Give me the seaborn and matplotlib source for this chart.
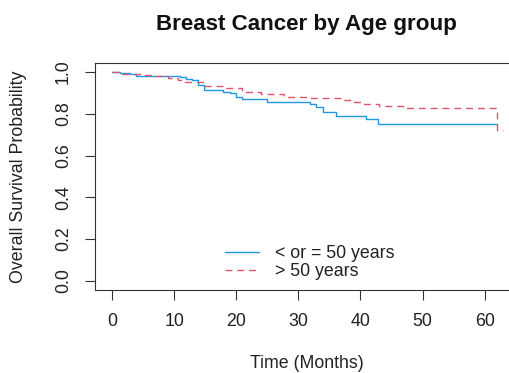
import numpy as np
import pandas as pd
import matplotlib
matplotlib.use("Agg")
import matplotlib.pyplot as plt
import seaborn as sns

# Kaplan-Meier step estimates per age group (time in months)
young_label = "< or = 50 years"
old_label = "> 50 years"

young_time = [0, 1.3, 2.9, 3.8, 10.9, 11.9, 12.9, 13.8, 14.8, 17.9, 18.9, 19.9,
              20.9, 24.9, 31.8, 32.9, 34.0, 36.0, 40.9, 42.9, 62.0]
young_surv = [1.0, 0.994, 0.989, 0.982, 0.976, 0.968, 0.962, 0.936, 0.915, 0.906,
              0.899, 0.879, 0.869, 0.858, 0.845, 0.832, 0.807, 0.791, 0.775, 0.749, 0.749]

old_time = [0, 1.6, 5.0, 6.9, 9.0, 10.6, 11.7, 14.7, 17.9, 20.9, 23.9, 27.7,
            31.2, 37.0, 38.8, 39.9, 43.0, 46.9, 62.0, 62.9]
old_surv = [1.0, 0.992, 0.987, 0.979, 0.973, 0.960, 0.952, 0.933, 0.922, 0.903,
            0.893, 0.882, 0.874, 0.864, 0.858, 0.848, 0.839, 0.828, 0.722, 0.722]

x_ticks = [0, 10, 20, 30, 40, 50, 60]
y_ticks = [0.0, 0.2, 0.4, 0.6, 0.8, 1.0]

df = pd.concat([
    pd.DataFrame({"time": young_time, "surv": young_surv, "group": young_label}),
    pd.DataFrame({"time": old_time, "surv": old_surv, "group": old_label}),
], ignore_index=True)

sns.set_style("ticks")
plt.rcParams["font.family"] = ["Liberation Sans", "DejaVu Sans"]

W, H = 510, 373
fig = plt.figure(figsize=(W / 100, H / 100), dpi=100)
left, right, top, bottom = 95.5, 517.5, 63.3, 290.3
ax = fig.add_axes([left / W, 1 - bottom / H, (right - left) / W, (bottom - top) / H])

sns.lineplot(data=df, x="time", y="surv", hue="group", style="group",
             hue_order=[young_label, old_label], style_order=[young_label, old_label],
             palette={young_label: "#2297E6", old_label: "#DF536B"},
             dashes={young_label: "", old_label: (5, 3.5)},
             drawstyle="steps-post", linewidth=1.0, estimator=None,
             sort=False, ax=ax)

ax.set_xlim(-2.7, 65.3)
ax.set_ylim(-0.046, 1.042)
ax.set_xticks(x_ticks)
ax.set_xticklabels([str(t) for t in x_ticks])
ax.set_yticks(y_ticks)
ax.set_yticklabels([f"{t:.1f}" for t in y_ticks], rotation=90, va="center")

fs = 12.75
for s in ax.spines.values():
    s.set_color("#333333")
    s.set_linewidth(0.8)
ax.spines["right"].set_visible(False)
ax.tick_params(axis="both", length=7, width=0.8, color="#333333",
               labelsize=fs, labelcolor="#222222")
ax.tick_params(axis="x", pad=9.5)
ax.tick_params(axis="y", pad=10)

ax.set_xlabel("Time (Months)", fontsize=fs, color="#222222", va="center")
ax.xaxis.set_label_coords(0.5, -(363 - bottom) / (bottom - top))
ax.set_ylabel("Overall Survival Probability", fontsize=fs, color="#222222", va="center")
ax.yaxis.set_label_coords(-(left - 18.5) / (right - left), 0.5)

ax.text(0.5, (bottom - 30) / (bottom - top), "Breast Cancer by Age group",
        transform=ax.transAxes, ha="center", va="baseline",
        fontsize=16.1, fontweight="bold", color="#111111")

leg = ax.legend(loc="upper left",
                bbox_to_anchor=((225 - left) / (right - left), (bottom - 245) / (bottom - top)),
                frameon=False, fontsize=fs, handlelength=1.9, handletextpad=0.9,
                labelspacing=0.08, borderpad=0, borderaxespad=0)
for t in leg.get_texts():
    t.set_color("#222222")

fig.savefig("out.png", dpi=100)
